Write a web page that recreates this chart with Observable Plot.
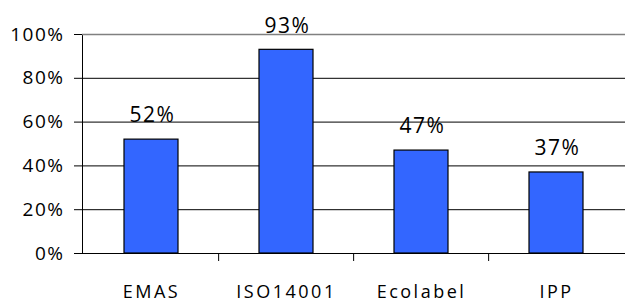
<!DOCTYPE html>
<html>
<head>
<meta charset="utf-8">
<script src="https://cdn.jsdelivr.net/npm/d3@7"></script>
<script src="https://cdn.jsdelivr.net/npm/@observablehq/plot@0.6"></script>
<style>
  html, body { margin: 0; padding: 0; background: #fff; overflow: hidden; }
  #chart svg { display: block; }
  #chart [aria-label^="x-axis"] text { letter-spacing: 2.5px; font-size: 18px; }
  #chart [aria-label^="y-axis"] text { letter-spacing: 1.5px; font-size: 19px; }
  #chart g[aria-label="text"] text { letter-spacing: 1.5px; }
</style>
</head>
<body>
<div id="chart"></div>
<script>
const categories = ["EMAS", "ISO14001", "Ecolabel", "IPP"];
const values = [0.52, 0.93, 0.47, 0.37];
const yTicks = [0, 0.2, 0.4, 0.6, 0.8, 1.0];

const data = categories.map((c, i) => ({category: c, value: values[i]}));
const fmt = d3.format(".0%");
const W = 625, ML = 82, MR = 0;
const step = (W - ML - MR) / categories.length;

const chart = Plot.plot({
  width: W,
  height: 301,
  marginLeft: ML,
  marginRight: MR,
  marginTop: 34,
  marginBottom: 48,
  style: {fontFamily: "'Open Sans', sans-serif", fontSize: "18px", color: "#000", background: "#fff"},
  x: {domain: categories, label: null, paddingInner: 0.6, paddingOuter: 0.3, align: 0.5, tickSize: 0, tickPadding: 32},
  y: {domain: [0, 1], ticks: yTicks, tickFormat: fmt, label: null, tickSize: 8, tickPadding: 10, line: true},
  marks: [
    Plot.ruleY(yTicks.filter(t => t > 0 && t < 1), {stroke: "#000", strokeWidth: 1}),
    Plot.ruleY([1], {stroke: "#808080", strokeWidth: 1.5}),
    Plot.barY(data, {x: "category", y: "value", fill: "#3366FF", stroke: "#000", strokeWidth: 1.2}),
    Plot.ruleY([0], {stroke: "#000", strokeWidth: 1}),
    Plot.ruleX(categories.slice(1), {x: d => d, dx: -step / 2, y1: 0, y2: 0, insetTop: 8, stroke: "#000"}),
    Plot.text(data, {x: "category", y: "value", text: d => fmt(d.value), dy: -24, dx: 1, fontSize: 21, fill: "#000"})
  ]
});
document.getElementById("chart").appendChild(chart);
</script>
</body>
</html>
